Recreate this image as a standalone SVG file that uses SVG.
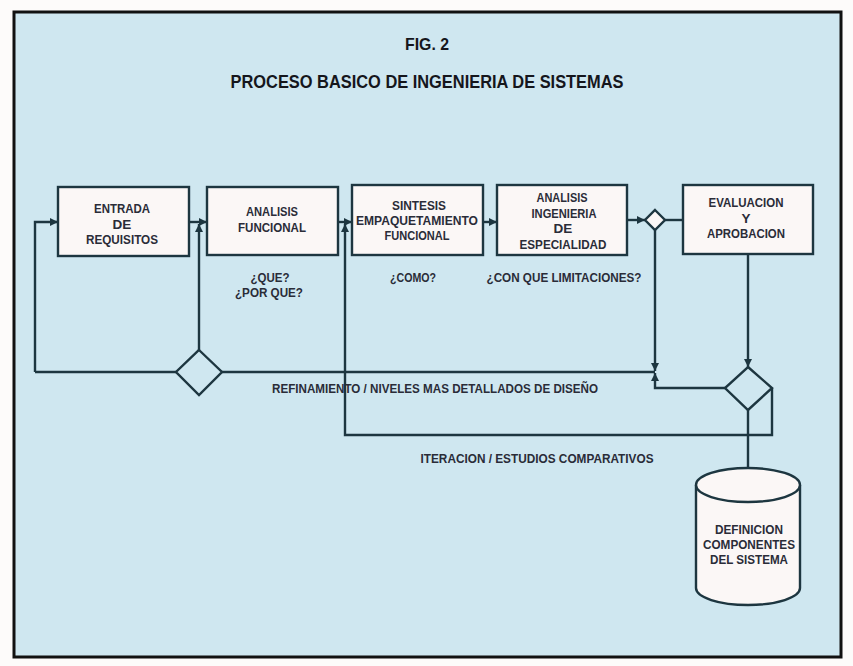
<svg xmlns="http://www.w3.org/2000/svg" width="853" height="666" viewBox="0 0 853 666">
<style>
.bg{fill:#cfe7f0}
.box{fill:#fbf7f6;stroke:#1d3640;stroke-width:2.4}
.dia{fill:#cfe7f0;stroke:#1d3640;stroke-width:2.4}
.ln{fill:none;stroke:#1d3640;stroke-width:2.4}
.t{font-family:"Liberation Sans",Arial,sans-serif;font-weight:bold;font-size:13.5px;fill:#2a2c38;text-anchor:middle}
.h{font-family:"Liberation Sans",Arial,sans-serif;font-weight:bold;fill:#15161c;text-anchor:middle}
</style>
<defs>
<marker id="ar" viewBox="0 0 10 10" refX="10" refY="5" markerWidth="10" markerHeight="8" markerUnits="userSpaceOnUse" orient="auto">
<path d="M0,0 L10,5 L0,10 z" fill="#1d3640"/>
</marker>
</defs>
<rect x="0" y="0" width="853" height="666" fill="#fdfbfa"/>
<rect x="14" y="12" width="827" height="645" class="bg" stroke="#111" stroke-width="3"/>
<g id="title">
<text class="h" x="427" y="50" font-size="17" textLength="44" lengthAdjust="spacingAndGlyphs">FIG. 2</text>
<text class="h" x="427" y="88" font-size="18" textLength="393" lengthAdjust="spacingAndGlyphs">PROCESO BASICO DE INGENIERIA DE SISTEMAS</text>
</g>
<g id="connectors">
<path class="ln" d="M35,372 L35,222 L58,222" marker-end="url(#ar)"/>
<path class="ln" d="M189,222 L207,222" marker-end="url(#ar)"/>
<path class="ln" d="M35,372 L655,372"/>
<path class="ln" d="M199,350 L199,224" marker-end="url(#ar)"/>
<path class="ln" d="M338,222 L352,222" marker-end="url(#ar)"/>
<path class="ln" d="M483,222 L497,222" marker-end="url(#ar)"/>
<path class="ln" d="M627,220 L645,220" marker-end="url(#ar)"/>
<path class="ln" d="M665,220 L683,220"/>
<path class="ln" d="M655,230 L655,371" marker-end="url(#ar)"/>
<path class="ln" d="M748,254 L748,367" marker-end="url(#ar)"/>
<path class="ln" d="M725,388 L655,388 L655,373" marker-end="url(#ar)"/>
<path class="ln" d="M772,388 L772,435 L345,435 L345,224" marker-end="url(#ar)"/>
<path class="ln" d="M748,410 L748,468"/>
</g>
<g id="entrada">
<rect class="box" x="58" y="187" width="131" height="69"/>
<text class="t" x="122" y="213" textLength="56" lengthAdjust="spacingAndGlyphs">ENTRADA</text>
<text class="t" x="122" y="229">DE</text>
<text class="t" x="122" y="244" textLength="72" lengthAdjust="spacingAndGlyphs">REQUISITOS</text>
</g>
<g id="analisis-funcional">
<rect class="box" x="207" y="187" width="131" height="68"/>
<text class="t" x="272" y="216" textLength="52" lengthAdjust="spacingAndGlyphs">ANALISIS</text>
<text class="t" x="272" y="232" textLength="68" lengthAdjust="spacingAndGlyphs">FUNCIONAL</text>
<text class="t" x="270" y="282" textLength="39" lengthAdjust="spacingAndGlyphs">¿QUE?</text>
<text class="t" x="269" y="297" textLength="68" lengthAdjust="spacingAndGlyphs">¿POR QUE?</text>
</g>
<g id="sintesis">
<rect class="box" x="352" y="185" width="131" height="70"/>
<text class="t" x="419" y="210" textLength="54" lengthAdjust="spacingAndGlyphs">SINTESIS</text>
<text class="t" x="417" y="225" textLength="122" lengthAdjust="spacingAndGlyphs">EMPAQUETAMIENTO</text>
<text class="t" x="417" y="240" textLength="65" lengthAdjust="spacingAndGlyphs">FUNCIONAL</text>
<text class="t" x="413" y="282" textLength="46" lengthAdjust="spacingAndGlyphs">¿COMO?</text>
</g>
<g id="analisis-ingenieria">
<rect class="box" x="497" y="185" width="130" height="70"/>
<text class="t" x="562" y="202" textLength="51" lengthAdjust="spacingAndGlyphs">ANALISIS</text>
<text class="t" x="564" y="218" textLength="65" lengthAdjust="spacingAndGlyphs">INGENIERIA</text>
<text class="t" x="563" y="233">DE</text>
<text class="t" x="563" y="249" textLength="87" lengthAdjust="spacingAndGlyphs">ESPECIALIDAD</text>
<text class="t" x="564" y="282" textLength="155" lengthAdjust="spacingAndGlyphs">¿CON QUE LIMITACIONES?</text>
</g>
<g id="evaluacion">
<rect class="box" x="683" y="185" width="130" height="69"/>
<text class="t" x="746" y="207" textLength="75" lengthAdjust="spacingAndGlyphs">EVALUACION</text>
<text class="t" x="746" y="223">Y</text>
<text class="t" x="746" y="238" textLength="78" lengthAdjust="spacingAndGlyphs">APROBACION</text>
</g>
<g id="decision-small">
<polygon class="box" points="655,210 665,220 655,230 645,220"/>
</g>
<g id="decision-left">
<polygon class="dia" points="199,350 222,372 199,395 176,372"/>
</g>
<g id="decision-right">
<polygon class="dia" points="748,367 772,388 748,410 725,388"/>
</g>
<g id="labels">
<text class="t" x="435" y="393" textLength="326" lengthAdjust="spacingAndGlyphs">REFINAMIENTO / NIVELES MAS DETALLADOS DE DISEÑO</text>
<text class="t" x="537" y="463" textLength="233" lengthAdjust="spacingAndGlyphs">ITERACION / ESTUDIOS COMPARATIVOS</text>
</g>
<g id="definicion">
<path class="box" d="M696,485 L696,588 A52,17 0 0 0 800,588 L800,485"/>
<ellipse class="box" cx="748" cy="485" rx="52" ry="17"/>
<text class="t" x="749" y="534" textLength="68" lengthAdjust="spacingAndGlyphs">DEFINICION</text>
<text class="t" x="749" y="549" textLength="92" lengthAdjust="spacingAndGlyphs">COMPONENTES</text>
<text class="t" x="749" y="564" textLength="78" lengthAdjust="spacingAndGlyphs">DEL SISTEMA</text>
</g>
</svg>
